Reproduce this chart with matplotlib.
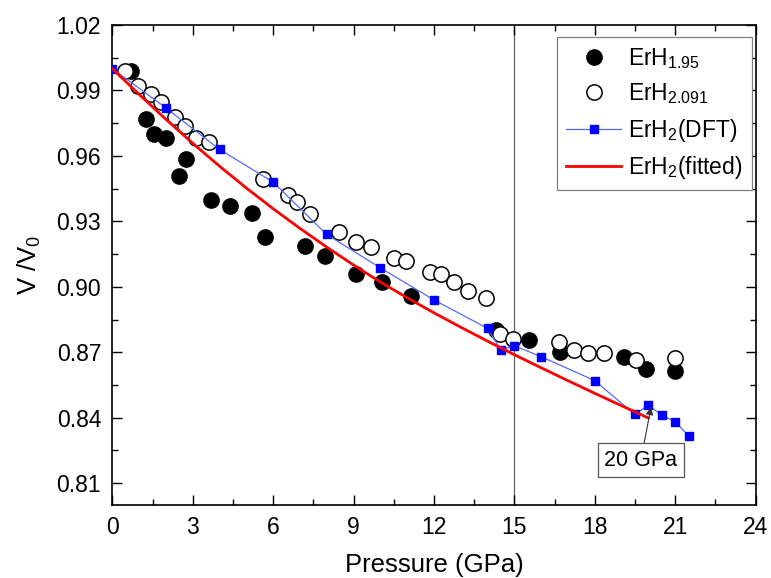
import matplotlib
matplotlib.use("Agg")
import matplotlib.pyplot as plt
from matplotlib.ticker import MultipleLocator, FormatStrFormatter

plt.rcParams['font.family'] = ['Liberation Sans', 'DejaVu Sans']
plt.rcParams['mathtext.fontset'] = 'custom'
plt.rcParams['mathtext.rm'] = 'Liberation Sans'
plt.rcParams['mathtext.it'] = 'Liberation Sans:italic'

# ErH1.95 (filled circles)
p_erh195 = [0.7, 1.25, 1.56, 2.0, 2.5, 2.75, 3.7, 4.4, 5.2, 5.7, 7.2, 7.95, 9.1,
            10.05, 11.15, 14.3, 15.55, 16.7, 19.1, 19.9, 21.0]
v_erh195 = [0.999, 0.977, 0.970, 0.968, 0.951, 0.9585, 0.940, 0.937, 0.934, 0.9227,
            0.9185, 0.914, 0.906, 0.9024, 0.896, 0.880, 0.8755, 0.870, 0.868, 0.8625, 0.8615]

# ErH2.091 (open circles)
p_erh2091 = [0.46, 0.95, 1.44, 1.81, 2.34, 2.71, 3.14, 3.59, 5.62, 6.54, 6.89, 7.37,
             8.46, 9.08, 9.66, 10.51, 10.97, 11.84, 12.28, 12.74, 13.27, 13.93, 14.45,
             14.95, 16.68, 17.24, 17.76, 18.33, 19.54, 21.0]
v_erh2091 = [0.9988, 0.992, 0.9886, 0.9847, 0.978, 0.9737, 0.9684, 0.9664, 0.9496,
             0.942, 0.9387, 0.9336, 0.925, 0.9204, 0.9181, 0.9131, 0.9117, 0.9067,
             0.9059, 0.9021, 0.8983, 0.8948, 0.8785, 0.8762, 0.8747, 0.8709, 0.8697,
             0.8697, 0.8663, 0.8674]

# ErH2 DFT
p_dft = [0, 2, 4, 6, 8, 10, 12, 14, 14.5, 15, 16, 18, 19.5, 20, 20.5, 21, 21.5]
v_dft = [1.000, 0.982, 0.963, 0.948, 0.924, 0.9087, 0.894, 0.881, 0.871, 0.873,
         0.868, 0.857, 0.8415, 0.8458, 0.8412, 0.8382, 0.8318]

# ErH2 fitted curve
p_fit = [0, 1, 2, 3, 4, 5, 6, 7, 8, 9, 10, 11, 12, 13, 14, 15, 16, 17, 18, 19, 20]
v_fit = [1.000, 0.9882, 0.9768, 0.9658, 0.9553, 0.9453, 0.9358, 0.9268, 0.9182,
         0.9100, 0.9022, 0.8950, 0.8881, 0.8815, 0.8751, 0.8689, 0.8629, 0.8570,
         0.8512, 0.8455, 0.8399]

fig = plt.figure(figsize=(7.71, 5.78), dpi=100)
ax = fig.add_axes([0.1457, 0.1263, 0.8342, 0.8304])

ax.axvline(15, color='#606060', lw=0.9, zorder=1)

ax.plot(p_erh195, v_erh195, 'o', color='black', ms=11, zorder=2,
        label=r'ErH$_\mathregular{1.95}$')
ax.plot(p_erh2091, v_erh2091, 'o', mfc='white', mec='black', mew=1.1, ms=11, zorder=3,
        label=r'ErH$_\mathregular{2.091}$')
ax.plot(p_dft, v_dft, '-s', color='#5468ff', lw=0.9, mfc='#0000ff', mec='#0000ff',
        ms=6, zorder=4, label=r'ErH$_\mathregular{2}$(DFT)')
ax.plot(p_fit, v_fit, '-', color='#ff0000', lw=2.0, zorder=5,
        label=r'ErH$_\mathregular{2}$(fitted)')

ax.annotate('20 GPa', xy=(20.1, 0.8448), xytext=(19.72, 0.8205),
            ha='center', va='center', fontsize=15.5, zorder=6,
            bbox=dict(boxstyle='square,pad=0.3', fc='white', ec='#555555', lw=0.9),
            arrowprops=dict(arrowstyle='-|>', color='#333333', lw=0.8,
                            mutation_scale=11, shrinkA=0, shrinkB=0))

ax.set_xlim(0, 24)
ax.set_ylim(0.80, 1.02)
ax.xaxis.set_major_locator(MultipleLocator(3))
ax.xaxis.set_minor_locator(MultipleLocator(1.5))
ax.yaxis.set_minor_locator(MultipleLocator(0.015))
ax.yaxis.set_major_formatter(FormatStrFormatter('%.2f'))
ax.set_yticks([0.81, 0.84, 0.87, 0.90, 0.93, 0.96, 0.99, 1.02])

ax.tick_params(which='both', direction='in', top=True, right=True, width=1.0,
               labelsize=16.5)
ax.tick_params(which='major', length=7)
ax.tick_params(which='minor', length=4)
ax.tick_params(axis='x', which='major', pad=8)
ax.tick_params(axis='y', which='major', pad=8)
for s in ax.spines.values():
    s.set_linewidth(1.2)

ax.set_xlabel('Pressure (GPa)', fontsize=18.5, labelpad=10)
ax.set_ylabel(r'V /V$_\mathregular{0}$', fontsize=18.5, labelpad=10)

leg = ax.legend(loc='upper right', fontsize=16.5, frameon=True, fancybox=False,
                edgecolor='#808080', framealpha=1, handlelength=2.4,
                handletextpad=0.3, labelspacing=0.45, borderpad=0.4,
                borderaxespad=0, bbox_to_anchor=(0.9946, 0.975))
leg.get_frame().set_linewidth(0.9)

fig.savefig('out.png', dpi=100)
